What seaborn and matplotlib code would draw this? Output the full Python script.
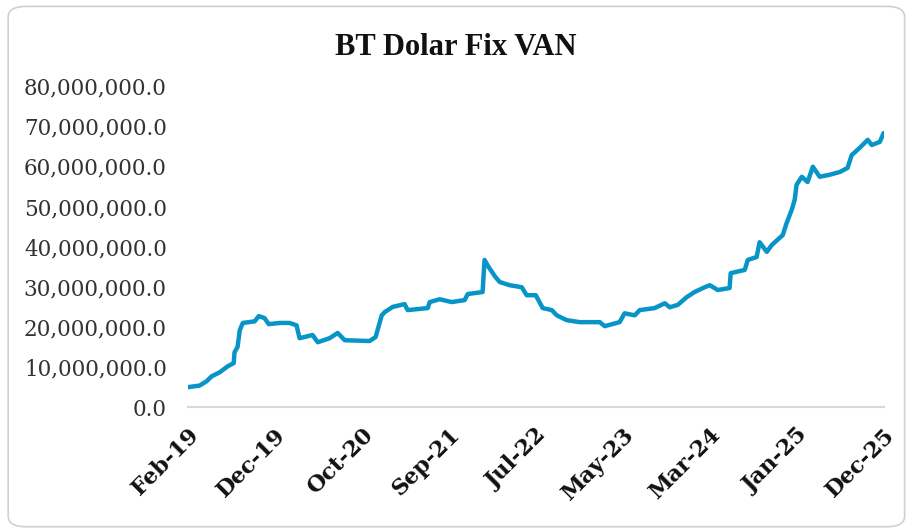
import matplotlib
matplotlib.use("Agg")
import matplotlib.pyplot as plt
import matplotlib.ticker as mticker
from matplotlib.patches import FancyBboxPatch
import pandas as pd
import seaborn as sns

# values (millions)
dates = [
    "2019-02-01", "2019-03-16", "2019-04-11", "2019-04-29", "2019-05-28", "2019-06-26",
    "2019-07-18", "2019-07-21", "2019-08-01", "2019-08-09", "2019-08-20", "2019-10-02",
    "2019-10-17", "2019-11-07", "2019-11-22", "2020-01-01", "2020-02-06", "2020-03-02",
    "2020-03-13", "2020-03-31", "2020-04-29", "2020-05-18", "2020-06-30", "2020-07-29",
    "2020-08-24", "2020-11-22", "2020-12-14", "2021-01-05", "2021-01-16", "2021-02-14",
    "2021-03-29", "2021-04-09", "2021-06-21", "2021-06-28", "2021-08-03", "2021-09-16",
    "2021-11-02", "2021-11-13", "2022-01-06", "2022-01-13", "2022-01-28", "2022-02-22",
    "2022-03-09", "2022-04-14", "2022-05-28", "2022-06-15", "2022-07-18", "2022-08-12",
    "2022-09-14", "2022-10-02", "2022-11-07", "2022-12-24", "2023-03-07", "2023-03-25",
    "2023-05-18", "2023-06-05", "2023-07-12", "2023-07-30", "2023-09-22", "2023-10-29",
    "2023-11-16", "2023-12-15", "2024-01-16", "2024-02-14", "2024-03-22", "2024-04-09",
    "2024-05-08", "2024-06-20", "2024-06-24", "2024-08-14", "2024-08-25", "2024-09-26",
    "2024-10-07", "2024-11-02", "2024-11-20", "2024-12-30", "2025-01-13", "2025-01-31",
    "2025-02-11", "2025-02-18", "2025-03-09", "2025-03-30", "2025-04-18", "2025-05-13",
    "2025-06-18", "2025-07-25", "2025-08-22", "2025-09-06", "2025-10-05", "2025-11-03",
    "2025-11-18", "2025-12-17", "2025-12-31",
]
van_millions = [
    5.0, 5.4, 6.5, 7.7, 8.7, 10.2,
    11.0, 13.7, 15.0, 19.2, 21.0, 21.4,
    22.7, 22.2, 20.7, 21.0, 21.0, 20.4,
    17.2, 17.5, 18.0, 16.2, 17.2, 18.5,
    16.7, 16.5, 17.5, 22.9, 23.7, 25.0,
    25.7, 24.2, 24.7, 26.2, 26.9, 26.2,
    26.7, 28.2, 28.7, 36.7, 34.9, 32.4,
    31.2, 30.4, 29.9, 27.9, 27.9, 24.7,
    24.2, 22.9, 21.7, 21.2, 21.2, 20.2,
    21.2, 23.4, 22.9, 24.2, 24.7, 25.9,
    24.9, 25.5, 27.4, 28.7, 29.9, 30.4,
    29.2, 29.7, 33.4, 34.2, 36.7, 37.4,
    41.1, 38.7, 40.4, 42.9, 45.9, 49.1,
    51.6, 55.4, 57.4, 56.1, 59.9, 57.4,
    57.9, 58.6, 59.6, 62.8, 64.6, 66.6,
    65.3, 66.1, 68.3,
]
tick_labels = ["Feb-19", "Dec-19", "Oct-20", "Sep-21", "Jul-22",
               "May-23", "Mar-24", "Jan-25", "Dec-25"]
y_ticks = [0, 10, 20, 30, 40, 50, 60, 70, 80]

df = pd.DataFrame({"date": pd.to_datetime(dates),
                   "van": [v * 1e6 for v in van_millions]})

sns.set_theme(style="white")
plt.rcParams["font.family"] = ["DejaVu Serif"]

fig = plt.figure(figsize=(9.11, 5.31), dpi=100)
ax = fig.add_axes([0.206, 0.233, 0.764, 0.605])

sns.lineplot(data=df, x="date", y="van", ax=ax, color="#0795C8", linewidth=3.2)

ax.set_xlim(df["date"].iloc[0], df["date"].iloc[-1])
ax.set_ylim(0, 80e6)
ax.set_yticks([v * 1e6 for v in y_ticks])
ax.yaxis.set_major_formatter(mticker.FuncFormatter(lambda v, _: f"{v:,.1f}"))
ax.tick_params(axis="y", labelsize=15.5, labelcolor="#333333", length=0, pad=15)

xt = pd.date_range(df["date"].iloc[0], df["date"].iloc[-1], periods=len(tick_labels))
ax.set_xticks(xt)
ax.set_xticklabels(tick_labels, rotation=45, ha="right", rotation_mode="anchor",
                   fontsize=16, fontweight="bold", color="#111111")
ax.tick_params(axis="x", length=0, pad=12)

ax.set_xlabel("")
ax.set_ylabel("")
for side in ["top", "right", "left"]:
    ax.spines[side].set_visible(False)
ax.spines["bottom"].set_color("#d9d9d9")
ax.spines["bottom"].set_linewidth(1.5)

fig.text(0.5, 0.91, "BT Dolar Fix VAN", ha="center", va="center",
         fontsize=22, fontweight="bold", family=["Liberation Serif"], color="#111111")

border = FancyBboxPatch((0.009, 0.008), 0.984, 0.98, transform=fig.transFigure,
                        boxstyle="round,pad=0,rounding_size=0.02",
                        facecolor="none", edgecolor="#d0d0d0", linewidth=1.2)
fig.patches.append(border)

fig.savefig("out.png", dpi=100)
